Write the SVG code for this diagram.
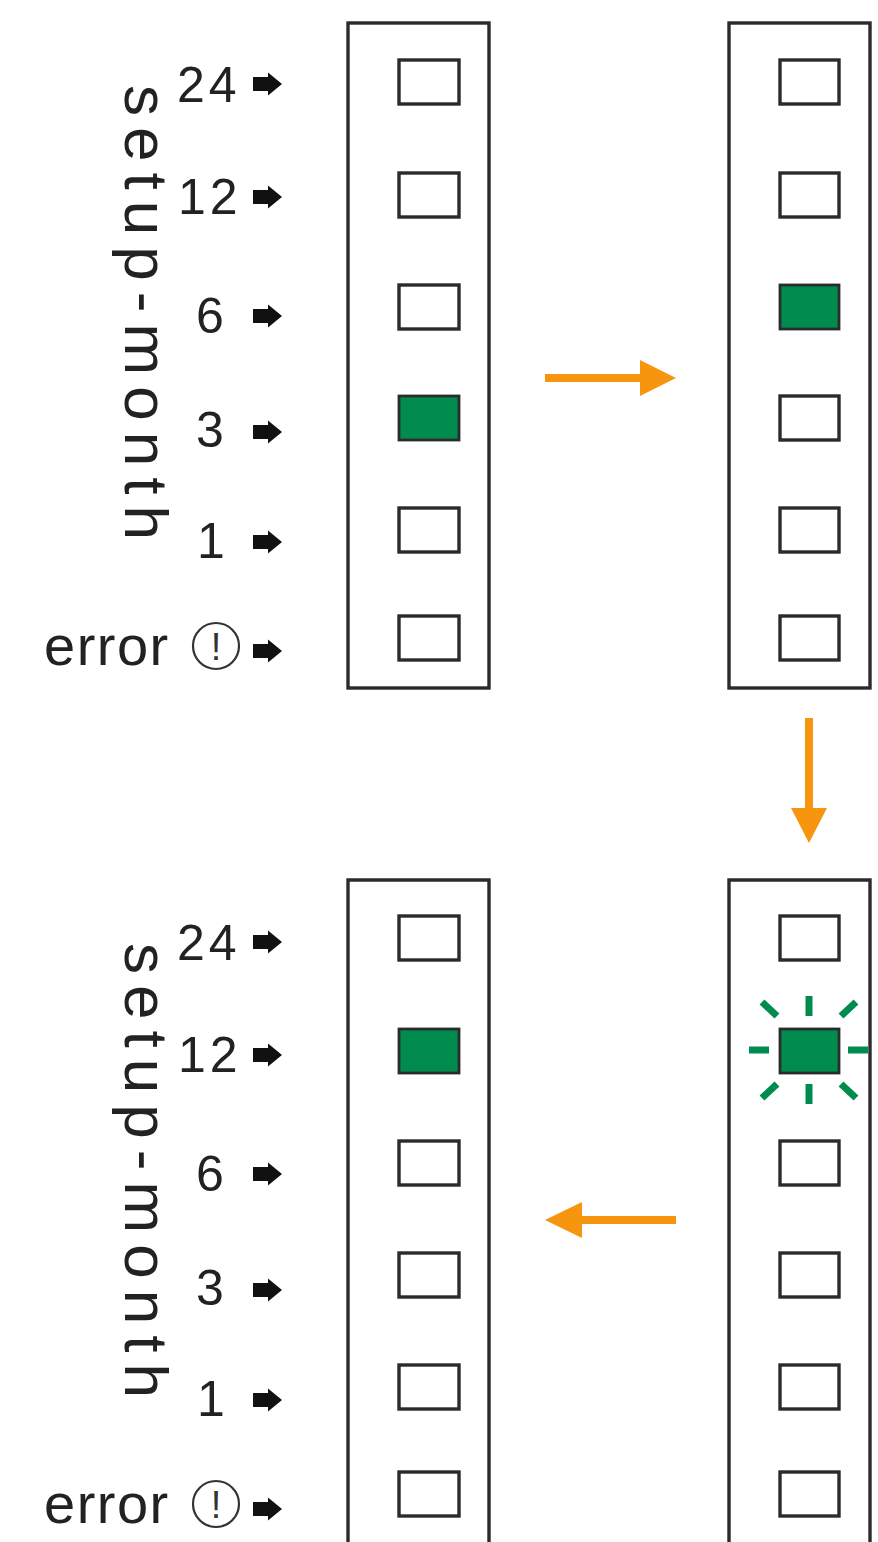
<svg xmlns="http://www.w3.org/2000/svg" width="878" height="1542" viewBox="0 0 878 1542">
<style>
.panel{fill:none;stroke:#2b2b2b;stroke-width:3.4}
.sq{fill:#fff;stroke:#2b2b2b;stroke-width:3.4}
.on{fill:#008c4f;stroke:#2b2b2b;stroke-width:2.8}
.lbl{font-family:"Liberation Sans",Arial,sans-serif;font-size:50px;fill:#222;letter-spacing:4px}
.err{font-family:"Liberation Sans",Arial,sans-serif;font-size:56px;fill:#222;letter-spacing:1.5px}
.vert{font-family:"Liberation Sans",Arial,sans-serif;font-size:62px;fill:#222}
.ptr{fill:#111}
.flow{fill:#f7950e}
.ray{stroke:#008c4f;stroke-width:7;stroke-linecap:butt}
.circ{fill:none;stroke:#333;stroke-width:2.2}
.excl{font-family:"Liberation Sans",Arial,sans-serif;font-size:38px;fill:#333;text-anchor:middle}
</style>
<defs>
<polygon id="ptr" points="253,-7 268,-7 268,-11.5 282,0 268,11.5 268,7 253,7"/>
</defs>

<g id="labels-top">
<text class="vert" transform="translate(125,85) rotate(90)" textLength="455" lengthAdjust="spacing">setup-month</text>
<text class="lbl" x="177" y="102">24</text>
<text class="lbl" x="178" y="214">12</text>
<text class="lbl" x="196" y="333">6</text>
<text class="lbl" x="196" y="447">3</text>
<text class="lbl" x="197" y="558">1</text>
<text class="err" x="44" y="665">error</text>
<circle class="circ" cx="216" cy="646" r="23"/>
<text class="excl" x="216" y="660">!</text>
<use href="#ptr" class="ptr" y="84"/>
<use href="#ptr" class="ptr" y="197"/>
<use href="#ptr" class="ptr" y="316"/>
<use href="#ptr" class="ptr" y="432"/>
<use href="#ptr" class="ptr" y="542"/>
<use href="#ptr" class="ptr" y="651"/>
</g>

<g id="labels-bottom">
<text class="vert" transform="translate(125,943) rotate(90)" textLength="455" lengthAdjust="spacing">setup-month</text>
<text class="lbl" x="177" y="960">24</text>
<text class="lbl" x="178" y="1072">12</text>
<text class="lbl" x="196" y="1191">6</text>
<text class="lbl" x="196" y="1305">3</text>
<text class="lbl" x="197" y="1416">1</text>
<text class="err" x="44" y="1523">error</text>
<circle class="circ" cx="216" cy="1504" r="23"/>
<text class="excl" x="216" y="1518">!</text>
<use href="#ptr" class="ptr" y="942"/>
<use href="#ptr" class="ptr" y="1055"/>
<use href="#ptr" class="ptr" y="1174"/>
<use href="#ptr" class="ptr" y="1290"/>
<use href="#ptr" class="ptr" y="1400"/>
<use href="#ptr" class="ptr" y="1509"/>
</g>

<g id="panel-top-left">
<rect class="panel" x="348" y="23" width="141" height="665"/>
<rect class="sq" x="399" y="60" width="60" height="44"/>
<rect class="sq" x="399" y="173" width="60" height="44"/>
<rect class="sq" x="399" y="285" width="60" height="44"/>
<rect class="on" x="399" y="396" width="60" height="44"/>
<rect class="sq" x="399" y="508" width="60" height="44"/>
<rect class="sq" x="399" y="616" width="60" height="44"/>
</g>

<g id="panel-top-right">
<rect class="panel" x="729" y="23" width="141" height="665"/>
<rect class="sq" x="780" y="60" width="59" height="44"/>
<rect class="sq" x="780" y="173" width="59" height="44"/>
<rect class="on" x="780" y="285" width="59" height="44"/>
<rect class="sq" x="780" y="396" width="59" height="44"/>
<rect class="sq" x="780" y="508" width="59" height="44"/>
<rect class="sq" x="780" y="616" width="59" height="44"/>
</g>

<g id="panel-bottom-left">
<path class="panel" d="M348,1545 V880 H489 V1545"/>
<rect class="sq" x="399" y="916" width="60" height="44"/>
<rect class="on" x="399" y="1029" width="60" height="44"/>
<rect class="sq" x="399" y="1141" width="60" height="44"/>
<rect class="sq" x="399" y="1253" width="60" height="44"/>
<rect class="sq" x="399" y="1365" width="60" height="44"/>
<rect class="sq" x="399" y="1472" width="60" height="44"/>
</g>

<g id="panel-bottom-right">
<path class="panel" d="M729,1545 V880 H870 V1545"/>
<rect class="sq" x="780" y="916" width="59" height="44"/>
<rect class="on" x="780" y="1029" width="59" height="44"/>
<rect class="sq" x="780" y="1141" width="59" height="44"/>
<rect class="sq" x="780" y="1253" width="59" height="44"/>
<rect class="sq" x="780" y="1365" width="59" height="44"/>
<rect class="sq" x="780" y="1472" width="59" height="44"/>
<g id="blink-rays">
<line class="ray" x1="809" y1="996" x2="809" y2="1016"/>
<line class="ray" x1="809" y1="1084" x2="809" y2="1104"/>
<line class="ray" x1="749" y1="1050" x2="769" y2="1050"/>
<line class="ray" x1="848" y1="1050" x2="868" y2="1050"/>
<line class="ray" x1="762" y1="1002" x2="777" y2="1016"/>
<line class="ray" x1="856" y1="1002" x2="841" y2="1016"/>
<line class="ray" x1="762" y1="1098" x2="777" y2="1084"/>
<line class="ray" x1="856" y1="1098" x2="841" y2="1084"/>
</g>
</g>

<g id="connectors">
<polygon class="flow" points="545,374 640,374 640,360 676,378 640,396 640,382 545,382"/>
<polygon class="flow" points="805,718 813,718 813,808 827,808 809,843 791,808 805,808"/>
<polygon class="flow" points="676,1216 582,1216 582,1202 545,1220 582,1238 582,1224 676,1224"/>
</g>
</svg>
